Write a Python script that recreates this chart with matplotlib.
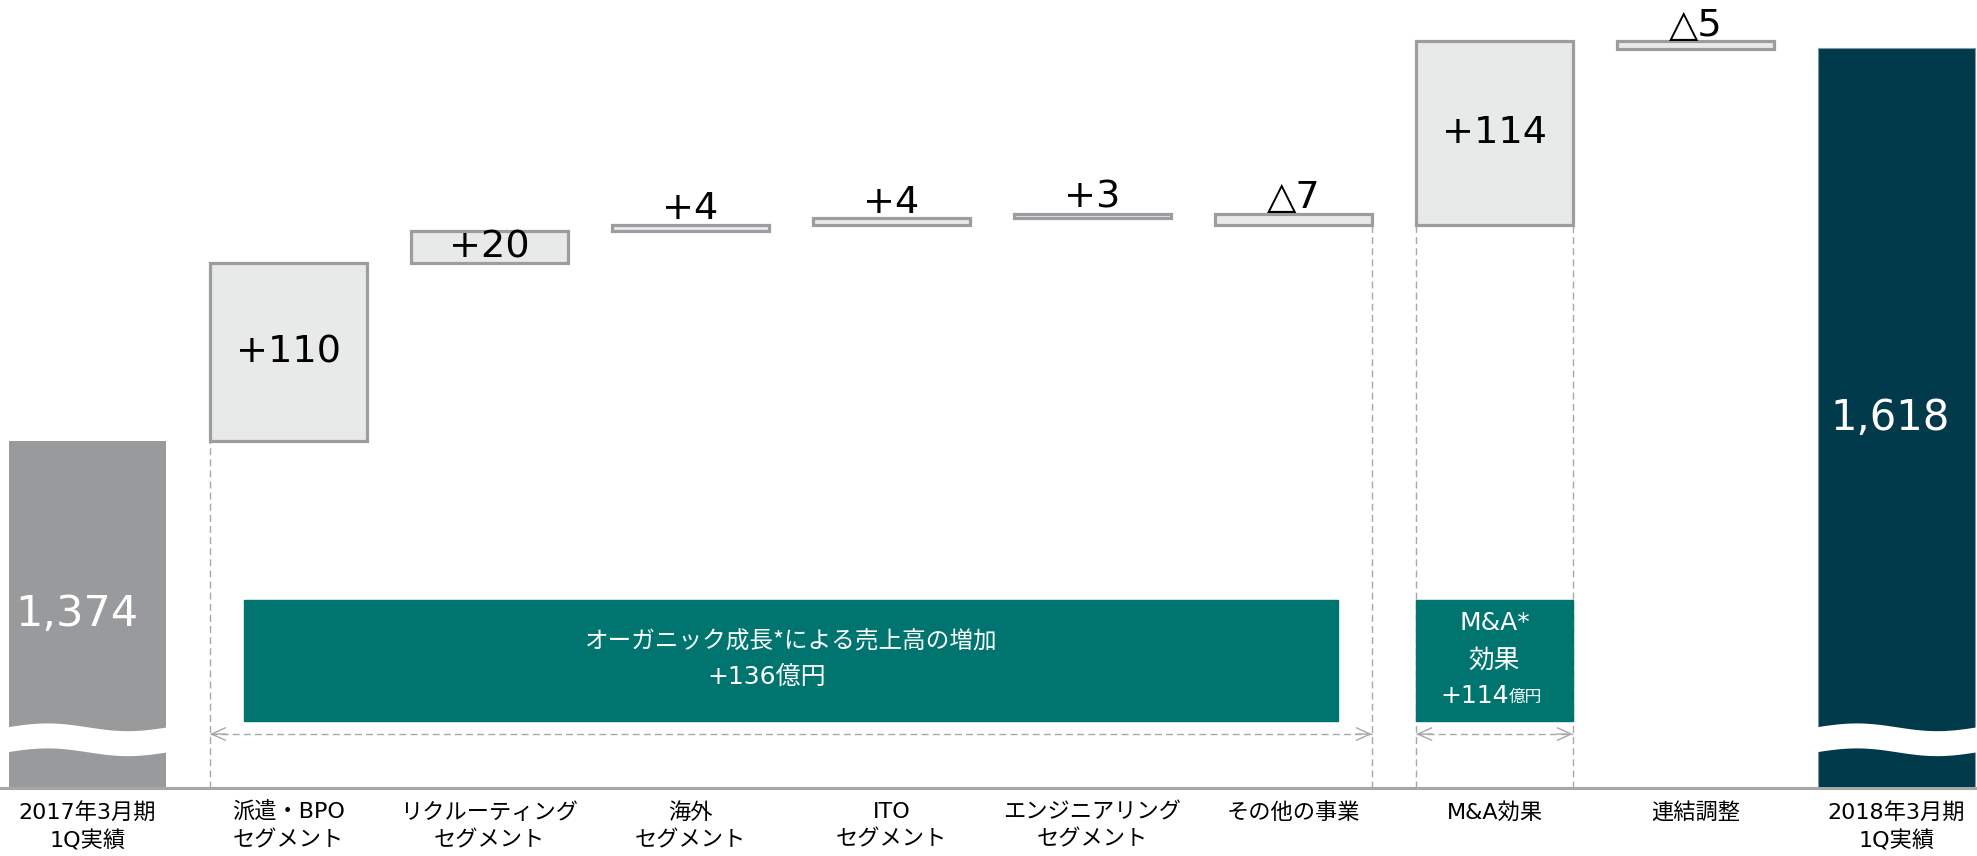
import numpy as np
import matplotlib.pyplot as plt
from matplotlib.patches import Rectangle

plt.rcParams['font.family'] = ['DejaVu Sans', 'Noto Sans CJK JP']
JP = ['Noto Sans CJK JP', 'DejaVu Sans']

# data
categories = ['2017年3月期\n1Q実績', '派遣・BPO\nセグメント', 'リクルーティング\nセグメント',
              '海外\nセグメント', 'ITO\nセグメント', 'エンジニアリング\nセグメント',
              'その他の事業', 'M&A効果', '連結調整', '2018年3月期\n1Q実績']
start_value = 1374
end_value = 1618
changes = [110, 20, 4, 4, 3, -7, 114, -5]
change_labels = ['+110', '+20', '+4', '+4', '+3', '△7', '+114', '△5']
organic_text = ['オーガニック成長*による売上高の増加', '+136億円']
ma_text = ['M&A*', '効果', '+114', '億円']

# colours
c_start = '#999a9c'
c_end = '#013a4a'
c_box = '#e8e9e9'
c_edge = '#9b9da0'
c_teal = '#00756f'
c_line = '#a8a8a8'

y_floor = 1158.5
y_top = 1647.5
w = 0.78

fig = plt.figure(figsize=(19.77, 8.56), dpi=100)
ax = fig.add_axes([0, 0.0794, 1, 0.9206])
ax.set_xlim(-0.434, 9.40)
ax.set_ylim(y_floor, y_top)

x = np.arange(len(categories))

# start / end bars
ax.bar(x[0], start_value - y_floor, bottom=y_floor, width=w, color=c_start, zorder=2)
ax.bar(x[-1], end_value - y_floor, bottom=y_floor, width=w, color=c_end,
       edgecolor='#7f9aa3', linewidth=0.8, zorder=2)
ax.text(x[0] - 0.05, (start_value + y_floor) / 2, f'{start_value:,}', color='white',
        fontsize=31, ha='center', va='center', zorder=4)
ax.text(x[-1] - 0.03, (end_value + y_floor) / 2, f'{end_value:,}', color='white',
        fontsize=30, ha='center', va='center', zorder=4)

# wavy break on the start/end bars
for xi in [x[0], x[-1]]:
    xs = np.linspace(xi - w / 2 - 0.01, xi + w / 2 + 0.01, 100)
    wave = 2.4 * np.sin((xs - xs[0]) / (xs[-1] - xs[0]) * 2 * np.pi)
    ax.fill_between(xs, 1181 + wave, 1196.5 + wave, color='white', lw=0, zorder=3)

# change bars
level = start_value
tops = []
for i, (d, lab) in enumerate(zip(changes, change_labels)):
    xi = x[i + 1]
    lo, hi = min(level, level + d), max(level, level + d)
    ax.bar(xi, hi - lo, bottom=lo, width=w, color=c_box, edgecolor=c_edge,
           linewidth=2.3, zorder=2)
    if hi - lo >= 15:
        ax.text(xi, (lo + hi) / 2, lab, fontsize=27.5, ha='center', va='center', zorder=4)
    else:
        ax.annotate(lab, (xi, hi), xytext=(0, 4), textcoords='offset points',
                    fontsize=27.5, ha='center', va='baseline', zorder=4)
    tops.append((lo, hi))
    level += d

# dashed guide lines
dash = dict(color=c_line, lw=1.0, ls=(0, (5, 3)), zorder=1)
ax.plot([x[1] - w / 2] * 2, [y_floor, start_value], **dash)
ax.plot([x[6] + w / 2] * 2, [y_floor, tops[5][0]], **dash)
ax.plot([x[7] - w / 2] * 2, [y_floor, tops[6][0]], **dash)
ax.plot([x[7] + w / 2] * 2, [y_floor, tops[6][0]], **dash)

arrow_y = 1192
for x0, x1 in [(x[1] - w / 2, x[6] + w / 2), (x[7] - w / 2, x[7] + w / 2)]:
    ax.plot([x0, x1], [arrow_y, arrow_y], **dash)
    for tip, tail in [(x0, x0 + 0.08), (x1, x1 - 0.08)]:
        ax.annotate('', xy=(tip, arrow_y), xytext=(tail, arrow_y),
                    arrowprops=dict(arrowstyle='->,head_length=1.0,head_width=0.45',
                                    color=c_line, lw=1.0, shrinkA=0, shrinkB=0))

# teal boxes
ax.add_patch(Rectangle((0.78, 1200), 6.22 - 0.78, 75, color=c_teal, zorder=2))
ax.add_patch(Rectangle((x[7] - w / 2, 1200), w, 75, color=c_teal, zorder=2))
ax.text((0.78 + 6.22) / 2, 1249, organic_text[0], color='white', fontsize=17,
        ha='center', va='center', family=JP, zorder=4)
ax.text((0.78 + 6.22) / 2 - 0.12, 1227.5, organic_text[1], color='white', fontsize=18,
        ha='center', va='center', zorder=4)
ax.text(x[7], 1261, ma_text[0], color='white', fontsize=18, ha='center', va='center',
        zorder=4)
ax.text(x[7], 1237.5, ma_text[1], color='white', fontsize=18.5, ha='center', va='center',
        family=JP, zorder=4)
ax.text(x[7] + 0.07, 1215.5, ma_text[2], color='white', fontsize=18, ha='right',
        va='center', zorder=4)
ax.text(x[7] + 0.07, 1215, ma_text[3], color='white', fontsize=12, ha='left',
        va='center', family=JP, zorder=4)

# axes styling
for s in ['top', 'right', 'left']:
    ax.spines[s].set_visible(False)
ax.spines['bottom'].set_color('#a6a6a6')
ax.spines['bottom'].set_linewidth(2.2)
ax.set_yticks([])
ax.set_xticks(x)
ax.set_xticklabels(categories, fontsize=16, linespacing=1.45, va='top')
ax.tick_params(axis='x', length=0, pad=10)

fig.savefig('out.png', dpi=100)
